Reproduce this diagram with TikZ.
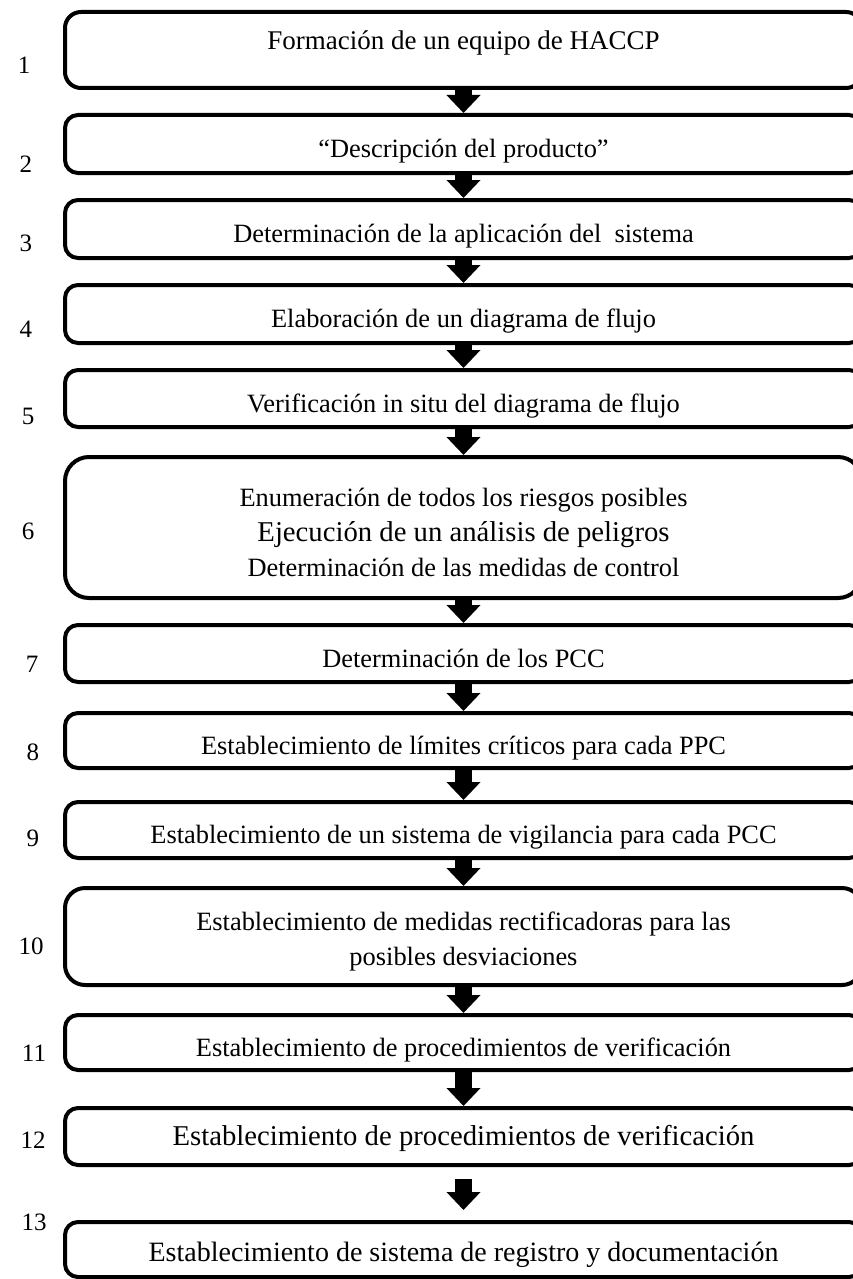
\documentclass[tikz,border=0pt]{standalone}
\usepackage{fontspec}
\setmainfont{Liberation Serif}
\usetikzlibrary{arrows.meta}
\newcommand{\stepfont}{\fontsize{26.4}{35}\selectfont}
\newcommand{\bigstepfont}{\fontsize{28.7}{36}\selectfont}
\begin{document}
\begin{tikzpicture}[x=1pt, y=-1pt,
  stepbox/.style={draw, line width=4pt, rounded corners=13pt, minimum width=797pt, inner sep=0pt, align=center, font=\stepfont},
  lowtext/.style={text height=27.8pt, text depth=0pt},
  stepno/.style={font=\fontsize{25}{29}\selectfont},
  flowarrow/.style={line width=17pt, -{Triangle[width=33pt, length=18pt]}}]
\useasboundingbox (0,0) rectangle (852,1279);
% etapas
\node[stepbox, minimum height=76pt, rounded corners=16pt, font=\fontsize{27}{32}\selectfont, text height=0.4em, text depth=0.4em] (b1) at (463.5,50) {Formación de un equipo de HACCP};
\node[stepbox, lowtext, minimum height=58pt] (b2) at (463.5,144) {“Descripción del producto”};
\node[stepbox, lowtext, minimum height=58pt] (b3) at (463.5,229) {Determinación de la aplicación del\ \ sistema};
\node[stepbox, lowtext, minimum height=58pt] (b4) at (463.5,314) {Elaboración de un diagrama de flujo};
\node[stepbox, lowtext, minimum height=57pt] (b5) at (463.5,398.5) {Verificación in situ del diagrama de flujo};
\node[stepbox, minimum height=141pt, rounded corners=24pt] (b6) at (463.5,527.5) {\rule{0pt}{28.5pt}Enumeración de todos los riesgos posibles\\\bigstepfont Ejecución de un análisis de peligros\\Determinación de las medidas de control};
\node[stepbox, lowtext, minimum height=57pt] (b7) at (463.5,653.5) {Determinación de los PCC};
\node[stepbox, lowtext, minimum height=55pt] (b8) at (463.5,740.5) {Establecimiento de límites críticos para cada PPC};
\node[stepbox, lowtext, minimum height=56pt] (b9) at (463.5,830) {Establecimiento de un sistema de vigilancia para cada PCC};
\node[stepbox, minimum height=97pt, rounded corners=20pt] (b10) at (463.5,936.5) {\rule{0pt}{28.5pt}Establecimiento de medidas rectificadoras para las\\posibles desviaciones};
\node[stepbox, lowtext, minimum height=55pt] (b11) at (463.5,1042.5) {Establecimiento de procedimientos de verificación};
\node[stepbox, minimum height=57pt, font=\bigstepfont, text height=17.2pt, text depth=0pt] (b12) at (463.5,1136.5) {Establecimiento de procedimientos de verificación};
\node[stepbox, minimum height=55pt, font=\fontsize{28}{34}\selectfont, text height=23.8pt, text depth=0pt] (b13) at (463.5,1249.5) {Establecimiento de sistema de registro y documentación};
% numeros
\node[stepno] (n1) at (24,65) {1};
\node[stepno] (n2) at (26,164) {2};
\node[stepno] (n3) at (26,243) {3};
\node[stepno] (n4) at (26,329) {4};
\node[stepno] (n5) at (28,416) {5};
\node[stepno] (n6) at (28,531) {6};
\node[stepno] (n7) at (32,664) {7};
\node[stepno] (n8) at (33,752) {8};
\node[stepno] (n9) at (33,838) {9};
\node[stepno] (n10) at (31,946) {10};
\node[stepno] (n11) at (34,1053) {11};
\node[stepno] (n12) at (33,1140) {12};
\node[stepno] (n13) at (34,1222) {13};
% flechas
\foreach \a/\b in {b1/b2, b2/b3, b3/b4, b4/b5, b5/b6, b6/b7, b7/b8, b8/b9, b9/b10, b10/b11, b11/b12}
  \draw[flowarrow] (\a.south) -- (\b.north);
\draw[flowarrow, shorten <=12pt, shorten >=10pt] (b12.south) -- (b13.north);
\end{tikzpicture}
\end{document}
